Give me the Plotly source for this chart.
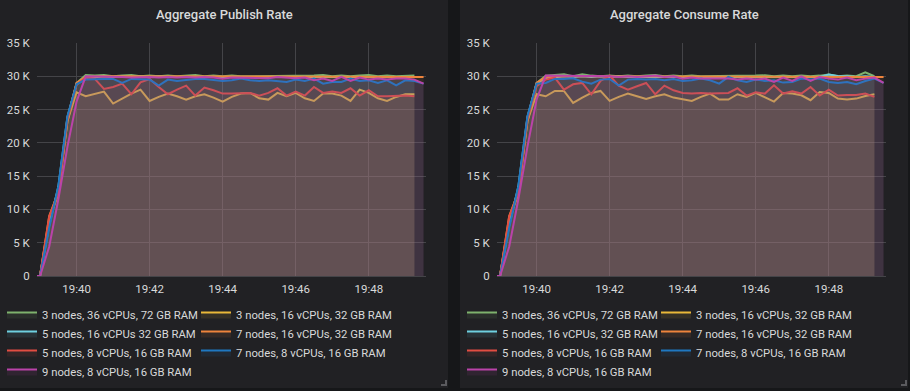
import plotly.graph_objects as go

DAY = "2019-06-01 "

# sample times (15 s scrape interval)
times = [
    "19:38:45", "19:39:00", "19:39:15", "19:39:30", "19:39:45",
    "19:40:00", "19:40:15", "19:40:30", "19:40:45",
    "19:41:00", "19:41:15", "19:41:30", "19:41:45",
    "19:42:00", "19:42:15", "19:42:30", "19:42:45",
    "19:43:00", "19:43:15", "19:43:30", "19:43:45",
    "19:44:00", "19:44:15", "19:44:30", "19:44:45",
    "19:45:00", "19:45:15", "19:45:30", "19:45:45",
    "19:46:00", "19:46:15", "19:46:30", "19:46:45",
    "19:47:00", "19:47:15", "19:47:30", "19:47:45",
    "19:48:00", "19:48:15", "19:48:30", "19:48:45",
    "19:49:00", "19:49:15", "19:49:30",
]

series_names = [
    "3 nodes, 36 vCPUs, 72 GB RAM",
    "3 nodes, 16 vCPUs, 32 GB RAM",
    "5 nodes, 16 vCPUs 32 GB RAM",
    "7 nodes, 16 vCPUs, 32 GB RAM",
    "5 nodes, 8 vCPUs, 16 GB RAM",
    "7 nodes, 8 vCPUs, 16 GB RAM",
    "9 nodes, 8 vCPUs, 16 GB RAM",
]
series_names_consume = [
    "3 nodes, 36 vCPUs, 72 GB RAM",
    "3 nodes, 16 vCPUs, 32 GB RAM",
    "5 nodes, 16 vCPUs, 32 GB RAM",
    "7 nodes, 16 vCPUs, 32 GB RAM",
    "5 nodes, 8 vCPUs, 16 GB RAM",
    "7 nodes, 8 vCPUs, 16 GB RAM",
    "9 nodes, 8 vCPUs, 16 GB RAM",
]
colors = ["#7EB26D", "#EAB839", "#6ED0E0", "#EF843C", "#E24D42", "#1F78C1", "#BA43A9"]
fill_colors = ["rgba(126,178,109,0.1)", "rgba(234,184,57,0.1)", "rgba(110,208,224,0.1)",
               "rgba(239,132,60,0.1)", "rgba(226,77,66,0.1)", "rgba(31,120,193,0.1)",
               "rgba(186,67,169,0.1)"]

# ---------------- Aggregate Publish Rate (thousand msg/s) ----------------
pub_green = [0, 0, 8.2, 13.0, 23.2,
             29.0, 30.2, 30.1, 30.2,  30.0, 30.1, 30.2, 30.0,  30.1, 30.0, 30.1, 30.0,
             30.1, 30.2, 30.0, 30.1,  30.0, 30.1, 30.0, 30.0,  30.1, 30.0, 30.1, 30.0,
             30.1, 30.0, 30.1, 30.2,  30.0, 30.1, 30.0, 30.1,  30.2, 30.0, 30.1, 30.0,
             30.1, 30.1, None]
pub_yellow = [0, 0, 8.5, 12.3, 23.3,
              27.6, 27.0, 27.4, 27.7,  25.9, 26.7, 27.4, 28.0,  26.3, 26.9, 27.4, 27.0,
              26.5, 27.0, 27.3, 26.8,  26.2, 26.9, 27.4, 27.5,  26.7, 26.5, 27.5, 27.0,
              27.5, 26.7, 26.3, 27.4,  27.4, 27.1, 26.3, 28.0,  27.5, 26.7, 26.3, 26.9,
              27.3, 27.3, None]
pub_cyan = [0, 0, 7.6, 13.4, 23.9,
            28.9, 29.7, 29.9, 30.0,  29.9, 30.0, 29.9, 30.0,  29.9, 30.0, 29.9, 29.9,
            30.0, 29.9, 30.0, 29.9,  30.0, 29.9, 30.0, 29.9,  29.9, 30.0, 29.9, 30.0,
            29.9, 30.0, 29.9, 30.0,  29.9, 30.0, 29.9, 29.9,  30.0, 29.9, 30.0, 29.9,
            30.0, 29.9, None]
pub_orange = [0, 0, 9.0, 12.6, 23.7,
              29.0, 29.9, 30.0, 30.0,  30.0, 30.0, 30.0, 30.0,  30.0, 30.0, 30.0, 30.0,
              30.0, 30.0, 30.0, 30.0,  30.0, 30.0, 30.0, 30.0,  30.0, 30.0, 30.0, 30.0,
              30.0, 30.0, 30.0, 30.0,  30.0, 30.0, 30.0, 30.0,  30.0, 30.0, 30.0, 30.0,
              30.0, 30.0, 29.9]
pub_red = [0, 0, 8.9, 12.5, 23.5,
           28.7, 29.8, 29.6, 28.1,  28.4, 28.9, 27.3, 29.1,  29.6, 28.4, 27.3, 28.0,
           28.6, 27.1, 28.3, 27.9,  27.4, 27.4, 27.4, 27.5,  27.1, 27.5, 28.2, 27.1,
           27.7, 27.1, 28.4, 27.5,  27.7, 27.5, 28.2, 27.1,  27.9, 27.0, 27.0, 27.05,
           27.1, 27.0, None]
pub_blue = [0, 0, 7.2, 13.5, 24.0,
            28.8, 29.5, 29.6, 29.6,  29.6, 29.0, 29.6, 29.5,  29.5, 28.6, 29.5, 29.3,
            29.5, 29.6, 29.6, 29.5,  29.3, 29.4, 29.65, 29.4,  29.3, 29.4, 29.3, 29.15,
            29.5, 29.3, 29.65, 28.9,  29.15, 29.15, 29.65, 29.3,  29.4, 29.0, 29.4, 28.65,
            29.4, 29.3, 28.9]
pub_purple = [0, 0, 4.4, 11.5, 19.4,
              26.2, 30.0, 30.0, 29.9,  29.9, 29.9, 29.8, 29.9,  29.9, 29.8, 29.9, 29.8,
              29.9, 29.8, 29.9, 29.8,  29.65, 29.8, 29.8, 29.8,  29.8, 29.7, 29.9, 29.8,
              29.7, 29.8, 29.4, 29.65,  29.3, 29.9, 29.3, 29.8,  29.5, 29.65, 29.5, 29.65,
              29.65, 29.5, 28.9]

# ---------------- Aggregate Consume Rate (thousand msg/s) ----------------
con_green = [0, 0, 8.2, 13.0, 23.2,
             29.0, 30.1, 30.2, 30.3,  30.0, 30.3, 30.1, 30.0,  30.1, 30.0, 30.1, 30.0,
             30.1, 30.2, 30.0, 30.1,  30.0, 30.1, 30.0, 30.0,  30.1, 30.0, 30.1, 30.0,
             30.1, 30.15, 30.0, 30.1,  30.0, 30.1, 30.0, 30.1,  30.25, 30.0, 30.1, 30.0,
             30.6, 30.0, None]
con_yellow = [0, 0, 8.5, 12.3, 23.3,
              27.3, 27.0, 27.8, 27.8,  26.0, 26.8, 27.5, 27.8,  26.3, 26.9, 27.4, 27.0,
              26.6, 27.0, 27.3, 26.8,  26.5, 26.3, 26.9, 27.4,  26.5, 26.5, 27.3, 26.9,
              27.5, 26.8, 26.2, 27.5,  27.4, 27.15, 26.4, 27.65,  27.5, 26.65, 26.5, 26.65,
              27.05, 27.3, None]
con_cyan = [0, 0, 7.6, 13.4, 23.9,
            28.9, 29.7, 29.9, 30.0,  29.9, 30.0, 29.9, 30.0,  29.9, 30.0, 29.9, 29.9,
            30.0, 29.9, 30.0, 29.9,  30.0, 29.9, 30.0, 29.9,  29.9, 30.0, 29.9, 30.0,
            29.9, 30.0, 29.9, 30.0,  29.9, 30.0, 29.9, 29.9,  30.25, 30.05, 30.0, 29.9,
            30.0, 29.9, None]
con_orange = [0, 0, 9.0, 12.6, 23.7,
              29.0, 29.9, 30.0, 30.0,  30.0, 30.0, 30.0, 30.0,  30.0, 30.0, 30.0, 30.0,
              30.0, 30.0, 30.0, 30.0,  30.0, 30.0, 30.0, 30.0,  30.0, 30.0, 30.0, 30.0,
              30.0, 30.0, 30.0, 30.0,  30.0, 30.0, 30.0, 30.0,  30.0, 30.0, 30.0, 30.0,
              30.0, 30.0, 29.9]
con_red = [0, 0, 8.9, 12.5, 23.5,
           28.5, 29.5, 29.8, 28.0,  28.8, 29.0, 27.3, 29.3,  30.1, 28.6, 28.0, 28.5,
           29.0, 27.3, 28.6, 27.9,  27.5, 27.4, 27.5, 27.4,  27.4, 27.5, 28.2, 27.1,
           27.6, 27.4, 28.65, 27.4,  27.75, 27.4, 28.4, 27.1,  28.0, 27.1, 27.2, 27.2,
           27.4, 26.9, None]
con_blue = [0, 0, 7.2, 13.5, 24.0,
            28.9, 29.0, 29.6, 29.6,  29.7, 29.2, 28.9, 29.5,  29.6, 28.6, 29.5, 29.6,
            29.5, 29.6, 29.4, 29.6,  29.3, 29.4, 29.65, 29.4,  28.9, 29.9, 29.4, 29.15,
            29.5, 29.3, 29.4, 29.05,  29.15, 29.65, 29.5, 29.65,  29.15, 29.0, 29.15, 28.8,
            29.3, 29.65, 29.0]
con_purple = [0, 0, 4.4, 11.5, 19.4,
              26.5, 30.1, 30.1, 30.0,  30.0, 30.0, 30.0, 30.0,  30.0, 29.9, 30.0, 29.9,
              30.0, 30.1, 29.9, 30.0,  29.65, 29.8, 29.65, 29.65,  29.65, 29.65, 29.5, 29.65,
              29.5, 29.65, 29.15, 29.8,  29.3, 30.0, 29.3, 29.9,  29.65, 29.5, 29.8, 29.4,
              29.65, 29.8, 29.0]

y_tickvals = [0, 5, 10, 15, 20, 25, 30, 35]
y_ticktext = ["0", "5 K", "10 K", "15 K", "20 K", "25 K", "30 K", "35 K"]
panel_titles = ["Aggregate Publish Rate", "Aggregate Consume Rate"]

pub_series = [pub_green, pub_yellow, pub_cyan, pub_orange, pub_red, pub_blue, pub_purple]
con_series = [con_green, con_yellow, con_cyan, con_orange, con_red, con_blue, con_purple]

# ---------------- layout helpers (pixel -> paper) ----------------
W, H = 910, 391
def fx(p):
    return p / W
def fy(p):
    return (H - p) / H

TEXT = "#d8d9da"
GRID = "#444448"
FONT = "Roboto"
x_vals = [DAY + t for t in times]

# column of each series in the two-column legend
legend_col = [0, 1, 0, 1, 0, 1, 0]

fig = go.Figure()
panels = [(pub_series, series_names, "x", "y", ("legend", "legend2")),
          (con_series, series_names_consume, "x2", "y2", ("legend3", "legend4"))]
for series, names, xa, ya, legs in panels:
    for i, vals in enumerate(series):
        fig.add_trace(go.Scatter(
            x=x_vals, y=vals, name=names[i], mode="lines",
            line=dict(color=colors[i], width=2),
            fill="tozeroy", fillcolor=fill_colors[i],
            xaxis=xa, yaxis=ya, legend=legs[legend_col[i]],
            hoverinfo="x+y+name",
        ))

x_common = dict(
    type="date", range=[DAY + "19:38:55", DAY + "19:49:34"],
    tickformat="%H:%M", tick0=DAY + "19:40:00", dtick=120000,
    showgrid=True, gridcolor=GRID, gridwidth=1, zeroline=False, showline=False,
    ticks="outside", ticklen=2, tickcolor="rgba(0,0,0,0)",
    tickfont=dict(family=FONT, size=11.5, color=TEXT), fixedrange=True,
)
y_common = dict(
    range=[0, 35], tickvals=y_tickvals, ticktext=y_ticktext,
    showgrid=True, gridcolor=GRID, gridwidth=1,
    zeroline=True, zerolinecolor=GRID, zerolinewidth=1, showline=False,
    ticks="outside", ticklen=4, tickcolor="rgba(0,0,0,0)",
    tickfont=dict(family=FONT, size=11.5, color=TEXT), fixedrange=True,
    domain=[fy(276), fy(43)],
)

legend_common = dict(
    orientation="v", xanchor="left", yanchor="top",
    bgcolor="rgba(0,0,0,0)", borderwidth=0, tracegroupgap=0,
    font=dict(family=FONT, size=11.3, color=TEXT),
)
leg_top = fy(300)

shapes = []
for x0 in (0, 460):
    shapes.append(dict(type="rect", xref="paper", yref="paper",
                       x0=fx(x0), x1=fx(x0 + 448), y0=fy(388), y1=fy(0),
                       fillcolor="#212124", line=dict(width=0), layer="below"))
    # panel resize handle
    hx = x0 + 446
    shapes.append(dict(type="path", xref="paper", yref="paper",
                       path=f"M {fx(hx - 5)},{fy(385)} L {fx(hx)},{fy(385)} L {fx(hx)},{fy(380)}",
                       line=dict(color="#5b5b5f", width=2), layer="above"))

annotations = []
for k, x0 in enumerate((0, 460)):
    annotations.append(dict(text=panel_titles[k], xref="paper", yref="paper",
                            x=fx(x0 + 224), y=fy(15), xanchor="center", yanchor="middle",
                            showarrow=False,
                            font=dict(family=FONT, size=13, color=TEXT, weight=500)))

fig.update_layout(
    width=W, height=H,
    margin=dict(l=0, r=0, t=0, b=0, pad=0, autoexpand=False),
    paper_bgcolor="#161719", plot_bgcolor="rgba(0,0,0,0)",
    font=dict(family=FONT, size=12, color=TEXT),
    xaxis=dict(domain=[fx(37), fx(426)], anchor="y", **x_common),
    yaxis=dict(anchor="x", **y_common),
    xaxis2=dict(domain=[fx(497), fx(886)], anchor="y2", **x_common),
    yaxis2=dict(anchor="x2", **y_common),
    legend=dict(x=fx(2), y=leg_top, **legend_common),
    legend2=dict(x=fx(196), y=leg_top, **legend_common),
    legend3=dict(x=fx(462), y=leg_top, **legend_common),
    legend4=dict(x=fx(656), y=leg_top, **legend_common),
    shapes=shapes, annotations=annotations,
    showlegend=True, hovermode="x",
)

# the page body has a default 8px margin; remove it so the figure fills the window
fig.write_html(
    "out.html",
    config={"displayModeBar": False},
    post_script="document.body.style.margin='0';document.body.style.padding='0';"
                "document.body.style.overflow='hidden';",
)
